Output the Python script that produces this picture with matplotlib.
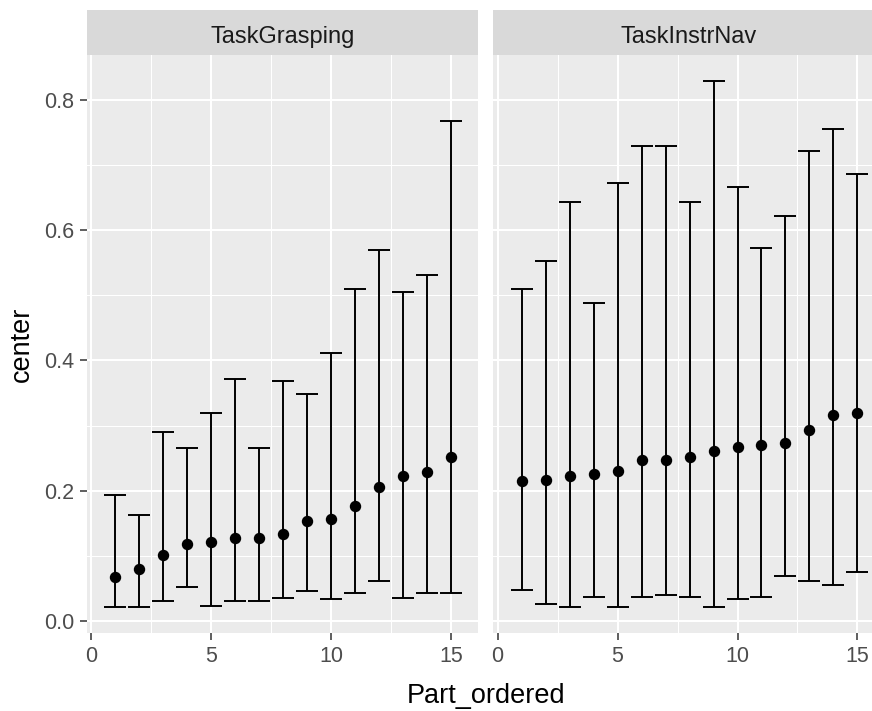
# Two-facet point + errorbar chart in ggplot2 look
import numpy as np
import matplotlib.pyplot as plt
from matplotlib.ticker import MultipleLocator, FormatStrFormatter

plt.rcParams['font.family'] = ['Liberation Sans', 'DejaVu Sans']

# data
part = [1, 2, 3, 4, 5, 6, 7, 8, 9, 10, 11, 12, 13, 14, 15]

grasp_center = [0.068, 0.080, 0.101, 0.119, 0.122, 0.127, 0.127, 0.133,
                0.153, 0.156, 0.177, 0.206, 0.223, 0.229, 0.252]
grasp_lower = [0.021, 0.021, 0.031, 0.052, 0.023, 0.031, 0.031, 0.036,
               0.046, 0.034, 0.043, 0.061, 0.036, 0.043, 0.043]
grasp_upper = [0.194, 0.162, 0.290, 0.265, 0.319, 0.372, 0.265, 0.369,
               0.348, 0.412, 0.509, 0.570, 0.505, 0.531, 0.768]

nav_center = [0.215, 0.217, 0.223, 0.226, 0.231, 0.247, 0.247, 0.252,
              0.261, 0.267, 0.270, 0.273, 0.293, 0.316, 0.319]
nav_lower = [0.047, 0.026, 0.021, 0.037, 0.021, 0.037, 0.040, 0.037,
             0.021, 0.034, 0.037, 0.069, 0.061, 0.055, 0.075]
nav_upper = [0.509, 0.553, 0.643, 0.489, 0.672, 0.729, 0.729, 0.643,
             0.829, 0.666, 0.572, 0.622, 0.721, 0.756, 0.686]

facets = ['TaskGrasping', 'TaskInstrNav']
x_ticks = [0, 5, 10, 15]
y_ticks = [0.0, 0.2, 0.4, 0.6, 0.8]

W, H = 872, 711
fig = plt.figure(figsize=(W / 100, H / 100), dpi=100)

def px_box(left, top, right, bottom):
    return [left / W, (H - bottom) / H, (right - left) / W, (bottom - top) / H]

panel_left = [86.7, 493.3]
panel_w = 391.5
panel_top, panel_bottom = 55, 633
strip_top = 10

series = [(grasp_center, grasp_lower, grasp_upper),
          (nav_center, nav_lower, nav_upper)]

for i, (name, (c, lo, hi)) in enumerate(zip(facets, series)):
    ax = fig.add_axes(px_box(panel_left[i], panel_top,
                             panel_left[i] + panel_w, panel_bottom))
    ax.set_facecolor('#EBEBEB')
    for s in ax.spines.values():
        s.set_visible(False)

    c = np.array(c)
    yerr = [c - np.array(lo), np.array(hi) - c]
    ax.errorbar(part, c, yerr=yerr, fmt='o', color='black', ms=7.2,
                elinewidth=1.4, capsize=7.8, capthick=1.4, zorder=3)

    ax.set_xlim(-0.18, 16.14)
    ax.set_ylim(-0.0184, 0.869)
    ax.set_xticks(x_ticks)
    ax.set_yticks(y_ticks)
    ax.xaxis.set_minor_locator(MultipleLocator(2.5))
    ax.yaxis.set_minor_locator(MultipleLocator(0.1))
    ax.yaxis.set_major_formatter(FormatStrFormatter('%.1f'))
    ax.grid(which='major', color='white', lw=1.5)
    ax.grid(which='minor', color='white', lw=0.75)
    ax.set_axisbelow(True)
    ax.tick_params(which='minor', length=0)
    ax.tick_params(which='major', length=5, width=1.1, color='#333333',
                   labelcolor='#4D4D4D', labelsize=15.5, pad=4)
    if i == 1:
        ax.tick_params(axis='y', which='both', left=False, labelleft=False)

    # strip on top of the panel
    st = fig.add_axes(px_box(panel_left[i], strip_top,
                             panel_left[i] + panel_w, panel_top))
    st.set_facecolor('#D9D9D9')
    st.set_xticks([])
    st.set_yticks([])
    for s in st.spines.values():
        s.set_visible(False)
    st.text(0.5, 0.27, name, ha='center', va='baseline', fontsize=17,
            color='#1A1A1A', transform=st.transAxes)

fig.text((panel_left[0] + panel_left[1] + panel_w) / 2 / W, 8 / H,
         'Part_ordered', ha='center', va='baseline', fontsize=19.5)
fig.text(35 / W, (H - (panel_top + panel_bottom) / 2) / H, 'center',
         ha='right', va='center', rotation=90, fontsize=19.5)

fig.savefig('out.png', dpi=100)
